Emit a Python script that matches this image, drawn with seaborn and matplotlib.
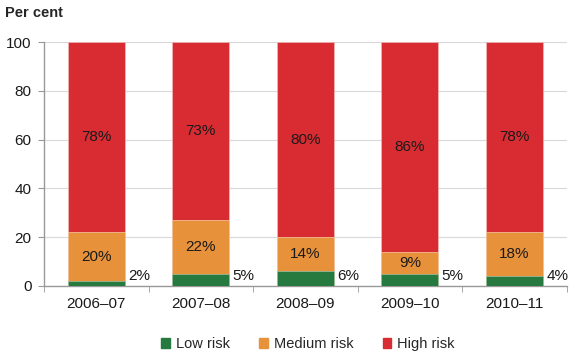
import matplotlib
matplotlib.use('Agg')
import matplotlib.pyplot as plt
import seaborn as sns
import numpy as np
import pandas as pd
from matplotlib.patches import Patch

years = ['2006–07', '2007–08', '2008–09', '2009–10', '2010–11']
low_risk = [2, 5, 6, 5, 4]
medium_risk = [20, 22, 14, 9, 18]
high_risk = [78, 73, 80, 86, 78]

green = '#267a3f'
orange = '#e8913b'
red = '#d92b32'

sns.set_style('white')
plt.rcParams['font.family'] = ['Liberation Sans', 'DejaVu Sans']

df = pd.DataFrame({'year': years, 'low': low_risk, 'medium': medium_risk, 'high': high_risk})
df['cum_med'] = df['low'] + df['medium']
df['cum_high'] = df['cum_med'] + df['high']

fig = plt.figure(figsize=(5.79, 3.6), dpi=100)
ax = fig.add_axes([0.076, 0.206, 0.903, 0.677])

w = 0.545
sns.barplot(data=df, x='year', y='cum_high', color=red, width=w, ax=ax,
            saturation=1, edgecolor='#f2b8b8', linewidth=0.5, zorder=2)
sns.barplot(data=df, x='year', y='cum_med', color=orange, width=w, ax=ax,
            saturation=1, edgecolor='#f5d0a8', linewidth=0.5, zorder=3)
sns.barplot(data=df, x='year', y='low', color=green, width=w, ax=ax,
            saturation=1, edgecolor='#9cc4a6', linewidth=0.5, zorder=4)

fs = 11
for i in range(len(years)):
    ax.text(i, df['cum_med'][i] + df['high'][i] / 2, f"{high_risk[i]}%",
            ha='center', va='center', fontsize=fs, color='#1a1a1a', zorder=5)
    ax.text(i, df['low'][i] + df['medium'][i] / 2, f"{medium_risk[i]}%",
            ha='center', va='center', fontsize=fs, color='#1a1a1a', zorder=5)
    ax.text(i + w / 2 + 0.03, 4, f"{low_risk[i]}%",
            ha='left', va='center', fontsize=fs, color='#1a1a1a', zorder=5)

ax.set_xlim(-0.5, len(years) - 0.5)
ax.set_ylim(0, 100)
ax.set_yticks(range(0, 101, 20))
ax.yaxis.grid(True, color='#d9d9d9', linewidth=0.8, zorder=0)
ax.set_axisbelow(True)
ax.set_xlabel('')
ax.set_ylabel('')

ax.set_xticks(range(len(years)))
ax.set_xticklabels(years)
ax.tick_params(axis='x', which='major', length=0, pad=8, labelsize=fs, colors='#1a1a1a')
ax.set_xticks(np.arange(-0.5, len(years)), minor=True)
ax.tick_params(axis='x', which='minor', length=4, color='#999999', direction='out', bottom=True)
ax.tick_params(axis='y', length=4, color='#999999', direction='out', left=True, labelsize=fs,
               colors='#1a1a1a', pad=5)

for s in ['top', 'right']:
    ax.spines[s].set_visible(False)
for s in ['left', 'bottom']:
    ax.spines[s].set_color('#999999')
    ax.spines[s].set_linewidth(1)

fig.text(0.009, 0.965, 'Per cent', fontsize=10.5, fontweight='bold', va='center', ha='left')

handles = [Patch(color=green, label='Low risk'),
           Patch(color=orange, label='Medium risk'),
           Patch(color=red, label='High risk')]
fig.legend(handles=handles, loc='center', bbox_to_anchor=(0.532, 0.044), ncol=3, frameon=False,
           fontsize=10.5, handlelength=0.6, handleheight=0.6, handletextpad=0.4, columnspacing=2.0)

fig.savefig('out.png', dpi=100)
